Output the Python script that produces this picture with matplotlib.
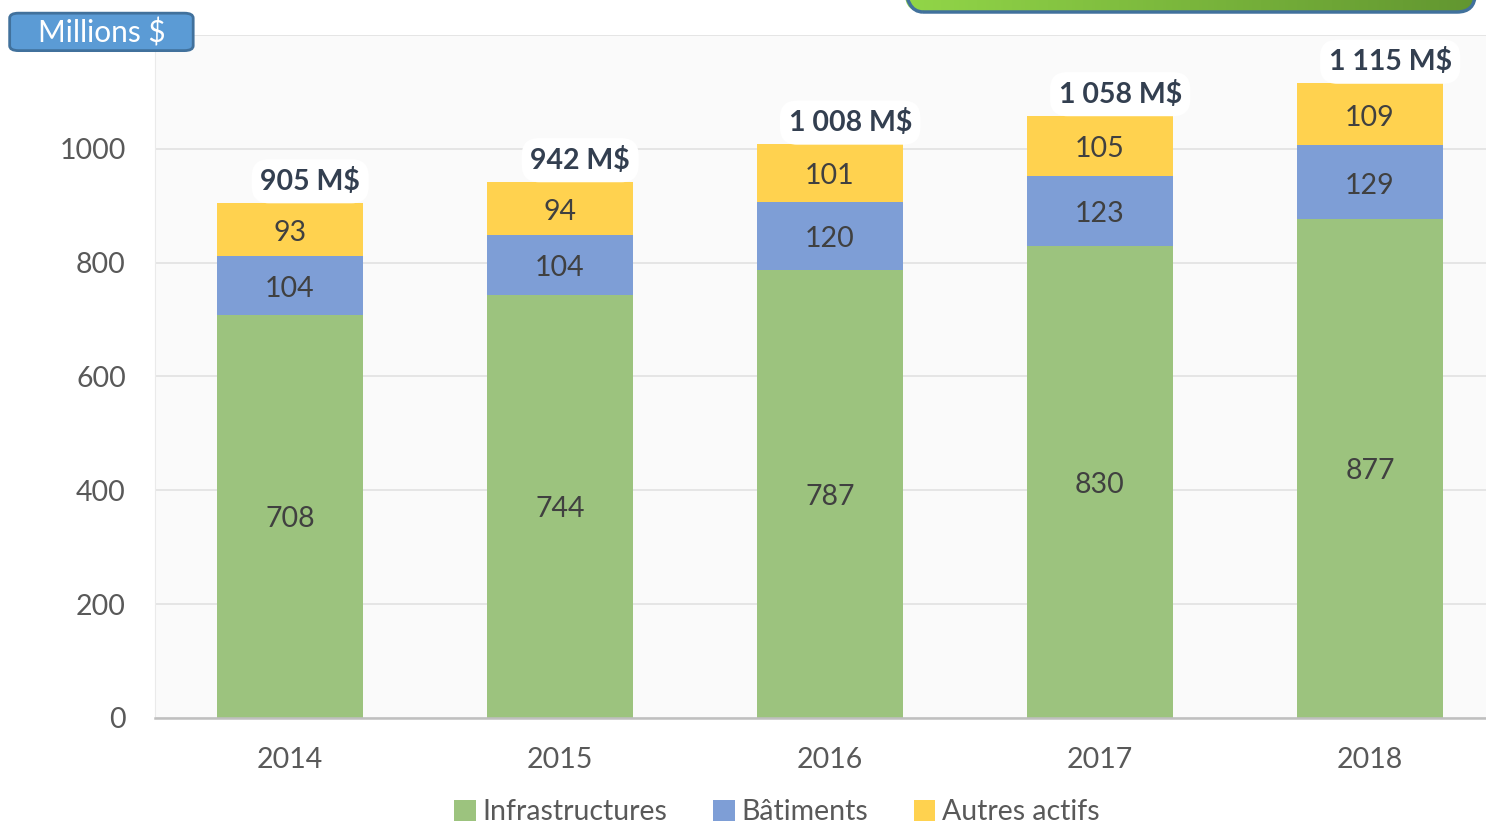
import matplotlib.pyplot as plt
import numpy as np
from matplotlib.patches import FancyBboxPatch

plt.rcParams['font.family'] = ['Lato', 'DejaVu Sans']

years = ['2014', '2015', '2016', '2017', '2018']
infrastructures = [708, 744, 787, 830, 877]
batiments = [104, 104, 120, 123, 129]
autres = [93, 94, 101, 105, 109]
totals = ['905 M$', '942 M$', '1 008 M$', '1 058 M$', '1 115 M$']
series_names = ['Infrastructures', 'Bâtiments', 'Autres actifs']

green = '#9CC37E'
blue = '#7E9ED6'
yellow = '#FFD24F'
txt = '#404040'
fs = 20.5

fig = plt.figure(figsize=(14.86, 8.23), dpi=100)
ax = fig.add_axes([0.1043, 0.1276, 0.8957, 0.8299])
ax.set_facecolor('#FAFAFA')

x = np.arange(len(years))
w = 0.54
infra = np.array(infrastructures)
bat = np.array(batiments)
aut = np.array(autres)

b1 = ax.bar(x, infra, w, color=green, label=series_names[0], zorder=3)
b2 = ax.bar(x, bat, w, bottom=infra, color=blue, label=series_names[1], zorder=3)
b3 = ax.bar(x, aut, w, bottom=infra + bat, color=yellow, label=series_names[2], zorder=3)

# segment values
for i in range(len(years)):
    ax.text(x[i], infra[i] / 2 - 5, str(infra[i]), ha='center', va='center',
            fontsize=fs, color=txt, zorder=4)
    ax.text(x[i], infra[i] + bat[i] / 2 - 6, str(bat[i]), ha='center', va='center',
            fontsize=fs, color=txt, zorder=4)
    ax.text(x[i], infra[i] + bat[i] + aut[i] / 2 - 6, str(aut[i]), ha='center', va='center',
            fontsize=fs, color=txt, zorder=4)
    top = infra[i] + bat[i] + aut[i]
    ax.text(x[i] + 0.075, top + 38, totals[i], ha='center', va='center',
            fontsize=fs, fontweight='bold', color='#333F50', zorder=5,
            bbox=dict(boxstyle='round,pad=0.3,rounding_size=0.6', fc='white', ec='none'))

ax.set_xlim(-0.5, 4.43)
ax.set_ylim(0, 1200)
ax.set_yticks(range(0, 1201, 200))
ax.set_yticklabels([str(v) for v in range(0, 1001, 200)] + [''])
ax.set_xticks(x)
ax.set_xticklabels(years)
ax.tick_params(axis='y', length=0, pad=21, labelsize=fs, labelcolor='#595959')
ax.tick_params(axis='x', length=0, pad=21, labelsize=fs, labelcolor='#595959')
ax.grid(axis='y', color='#E3E3E3', linewidth=1.3, zorder=0)
ax.set_axisbelow(True)
for s in ['top', 'right']:
    ax.spines[s].set_visible(False)
ax.spines['left'].set_color('#EAEAEA')
ax.spines['bottom'].set_color('#BFBFBF')
ax.spines['bottom'].set_linewidth(1.8)
ax.spines['bottom'].set_zorder(4)

leg = fig.legend(handles=[b1, b2, b3], loc='center', bbox_to_anchor=(0.523, 0.013),
                 ncol=3, frameon=False, fontsize=fs, handlelength=0.75, handleheight=0.75,
                 handletextpad=0.25, columnspacing=1.6, labelcolor='#595959')

# "Millions $" box
box = FancyBboxPatch((0.0065, 0.9385), 0.1235, 0.0455, boxstyle='round,pad=0,rounding_size=0.006',
                     transform=fig.transFigure, fc='#5B9BD5', ec='#41719C', lw=2, zorder=10)
fig.patches.append(box)
fig.text(0.0683, 0.960, 'Millions $', ha='center', va='center', fontsize=21.5, color='white', zorder=11)

# green header box, cut by the top of the picture (axes in pixel units)
gax = fig.add_axes([895 / 1486, (823 - 20) / 823, 590 / 1486, 20 / 823])
gax.set_axis_off()
gax.set_xlim(0, 590)
gax.set_ylim(0, 20)
grad = np.linspace(0, 1, 256).reshape(1, -1)
c0 = np.array([146, 214, 72]) / 255
c1 = np.array([98, 150, 48]) / 255
img = c0[None, None, :] * (1 - grad[..., None]) + c1[None, None, :] * grad[..., None]
im = gax.imshow(img, aspect='auto', extent=(10, 580, 8, 60), zorder=1)
gbox = FancyBboxPatch((10, 8), 570, 52, boxstyle='round,pad=0,rounding_size=18',
                      fc='none', ec='#41719C', lw=2.5, zorder=2)
gax.add_patch(gbox)
im.set_clip_path(gbox)

fig.savefig('out.png', dpi=100)
